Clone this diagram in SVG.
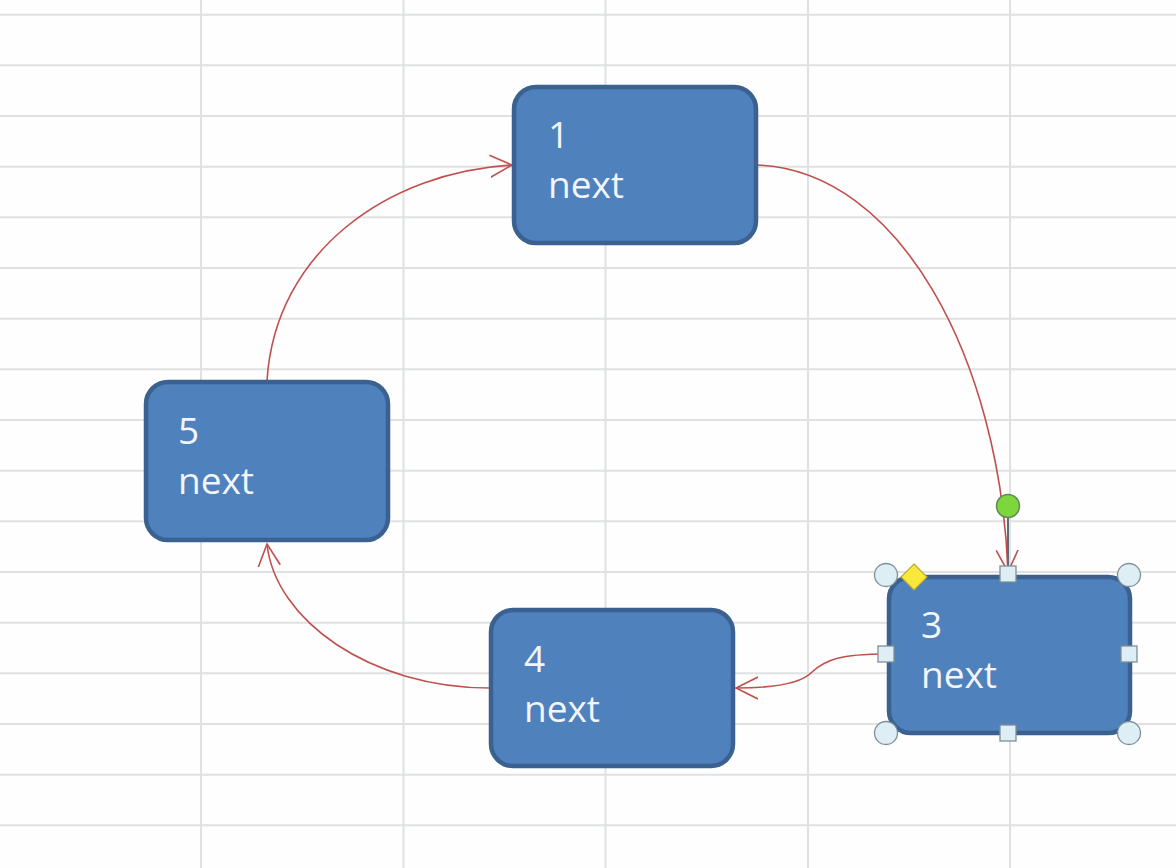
<svg xmlns="http://www.w3.org/2000/svg" width="1176" height="868" viewBox="0 0 1176 868">
<style>
.grid line{stroke:#dfe1e2;stroke-width:2}
.node rect{fill:#4f81bd;stroke:#3a6190;stroke-width:4.5}
.node text{fill:#f2f5fa;font-family:"Open Sans","Noto Sans",sans-serif;font-size:37px}
.conn path{fill:none;stroke:#c0504d;stroke-width:1.6}
.hc{fill:#ddeef4;stroke:#7f8f99;stroke-width:1.3}
</style>
<defs>
<marker id="arr2" viewBox="0 0 24 24" refX="22" refY="12" markerWidth="24" markerHeight="24" markerUnits="userSpaceOnUse" orient="auto">
<path d="M0,1 L22,12 L0,23" fill="none" stroke="#c0504d" stroke-width="1.6"/>
</marker>
</defs>
<rect width="1176" height="868" fill="#fdfefd"/>
<g class="grid">
<line x1="0" y1="14.7" x2="1176" y2="14.7"/>
<line x1="0" y1="65.3" x2="1176" y2="65.3"/>
<line x1="0" y1="116" x2="1176" y2="116"/>
<line x1="0" y1="166.7" x2="1176" y2="166.7"/>
<line x1="0" y1="217.3" x2="1176" y2="217.3"/>
<line x1="0" y1="268" x2="1176" y2="268"/>
<line x1="0" y1="318.7" x2="1176" y2="318.7"/>
<line x1="0" y1="369.3" x2="1176" y2="369.3"/>
<line x1="0" y1="420" x2="1176" y2="420"/>
<line x1="0" y1="470.7" x2="1176" y2="470.7"/>
<line x1="0" y1="521.3" x2="1176" y2="521.3"/>
<line x1="0" y1="572" x2="1176" y2="572"/>
<line x1="0" y1="622.7" x2="1176" y2="622.7"/>
<line x1="0" y1="673.3" x2="1176" y2="673.3"/>
<line x1="0" y1="724" x2="1176" y2="724"/>
<line x1="0" y1="774.7" x2="1176" y2="774.7"/>
<line x1="0" y1="825.3" x2="1176" y2="825.3"/>
<line x1="201" y1="0" x2="201" y2="868"/>
<line x1="403.5" y1="0" x2="403.5" y2="868"/>
<line x1="605.5" y1="0" x2="605.5" y2="868"/>
<line x1="808" y1="0" x2="808" y2="868"/>
<line x1="1010" y1="0" x2="1010" y2="868"/>
</g>
<g id="connectors" class="conn">
<path d="M757,165 C 900,170 1000,360 1008,572" marker-end="url(#arr2)"/>
<path d="M886,654 C 840,654 825,660 812,672 C 800,685 770,688 736,688" marker-end="url(#arr2)"/>
<path d="M490,688 C 370,688 275,620 267,544" marker-end="url(#arr2)"/>
<path d="M267,381 C 275,250 390,172 512,165" marker-end="url(#arr2)"/>
</g>
<g id="node1" class="node">
<rect x="514" y="87" width="242" height="156" rx="22"/>
<text x="548" y="148">1</text>
<text x="548" y="198">next</text>
</g>
<g id="node5" class="node">
<rect x="146" y="382" width="242" height="158" rx="22"/>
<text x="178" y="444">5</text>
<text x="178" y="494">next</text>
</g>
<g id="node4" class="node">
<rect x="491" y="610" width="242" height="156" rx="22"/>
<text x="524" y="672">4</text>
<text x="524" y="722">next</text>
</g>
<g id="node3" class="node">
<rect x="889" y="577" width="241" height="156" rx="22"/>
<text x="921" y="638">3</text>
<text x="921" y="688">next</text>
</g>
<g id="selection">
<line x1="1008" y1="516" x2="1008" y2="568" stroke="#5d6d78" stroke-width="2"/>
<circle cx="1008" cy="506" r="11.5" fill="#7dd63c" stroke="#5f8a57" stroke-width="1.5"/>
<circle class="hc" cx="886" cy="575" r="11.5"/>
<circle class="hc" cx="1129" cy="575" r="11.5"/>
<circle class="hc" cx="886" cy="733" r="11.5"/>
<circle class="hc" cx="1129" cy="733" r="11.5"/>
<rect class="hc" x="1000" y="566" width="16" height="16"/>
<rect class="hc" x="1000" y="725" width="16" height="16"/>
<rect class="hc" x="878" y="646" width="16" height="16"/>
<rect class="hc" x="1121" y="646" width="16" height="16"/>
<polygon points="914,564 927,577 914,590 901,577" fill="#f8e83a" stroke="#b9a93a" stroke-width="1.2"/>
</g>
</svg>
